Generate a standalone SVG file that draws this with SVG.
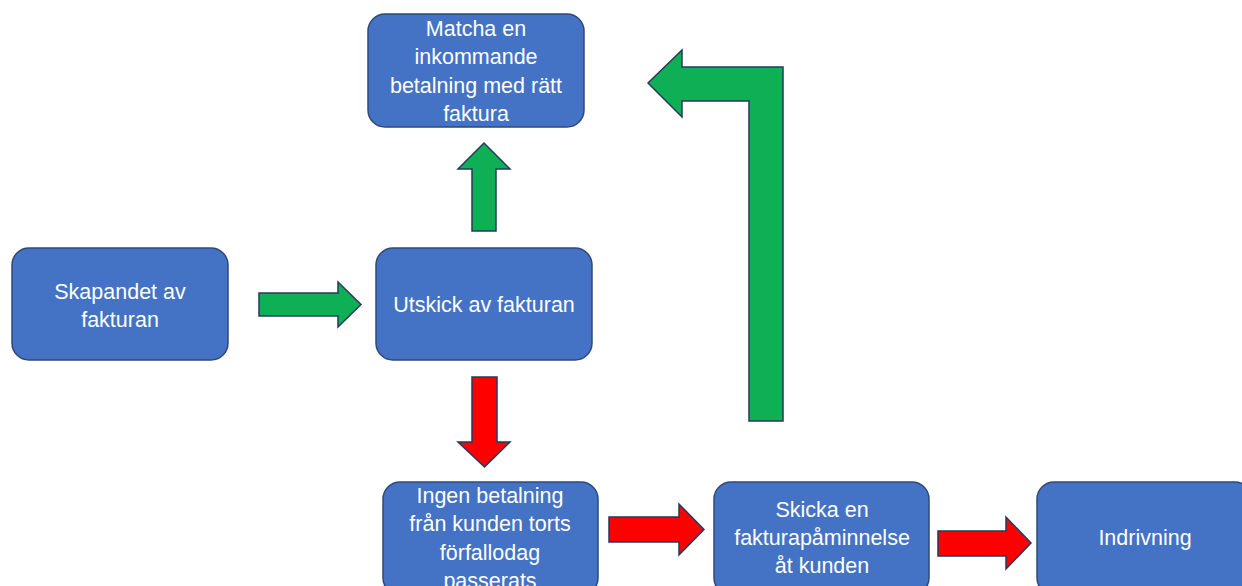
<svg xmlns="http://www.w3.org/2000/svg" width="1242" height="586" viewBox="0 0 1242 586">
<style>
.box{fill:#4472C4;stroke:#2F4A7A;stroke-width:1.5}
.t{font-family:"Liberation Sans",Arial,sans-serif;font-size:21.5px;fill:#FFFFFF;text-anchor:middle}
.g{fill:#0FAF55;stroke:#253A5E;stroke-width:1.5;stroke-linejoin:miter}
.r{fill:#FF0000;stroke:#253A5E;stroke-width:1.5;stroke-linejoin:miter}
</style>
<rect width="1242" height="586" fill="#FFFFFF"/>
<g id="connectors">
<polygon class="g" points="259,293 338,293 338,282 361,304.5 338,327 338,316 259,316"/>
<polygon class="g" points="472,231 472,169 458,169 484,143 510,169 496,169 496,231"/>
<polygon class="r" points="472,377 497,377 497,442 510,442 484.5,467 458,442 472,442"/>
<polygon class="g" points="783,421 749,421 749,101 682,101 682,117 648,83 682,50 682,67 783,67"/>
<polygon class="r" points="609,517 679,517 679,504 704,529.5 679,555 679,542 609,542"/>
<polygon class="r" points="938,531 1006,531 1006,517 1031,543 1006,569 1006,556 938,556"/>
</g>
<g id="node-matcha">
<rect class="box" x="368" y="14" width="216" height="113" rx="17"/>
<text class="t" x="476" y="36">Matcha en</text>
<text class="t" x="476" y="64">inkommande</text>
<text class="t" x="476" y="93">betalning med rätt</text>
<text class="t" x="476" y="121">faktura</text>
</g>
<g id="node-skapandet">
<rect class="box" x="12" y="248" width="216" height="112" rx="17"/>
<text class="t" x="120" y="299">Skapandet av</text>
<text class="t" x="120" y="327">fakturan</text>
</g>
<g id="node-utskick">
<rect class="box" x="376" y="248" width="216" height="112" rx="17"/>
<text class="t" x="484" y="312">Utskick av fakturan</text>
</g>
<g id="node-ingen">
<rect class="box" x="383" y="482" width="215" height="113" rx="17"/>
<text class="t" x="490" y="503">Ingen betalning</text>
<text class="t" x="490" y="531">från kunden torts</text>
<text class="t" x="490" y="560">förfallodag</text>
<text class="t" x="490" y="588">passerats</text>
</g>
<g id="node-skicka">
<rect class="box" x="714" y="482" width="215" height="113" rx="17"/>
<text class="t" x="822" y="517">Skicka en</text>
<text class="t" x="822" y="545">fakturapåminnelse</text>
<text class="t" x="822" y="573">åt kunden</text>
</g>
<g id="node-indrivning">
<rect class="box" x="1037" y="482" width="215" height="113" rx="17"/>
<text class="t" x="1145" y="545">Indrivning</text>
</g>
</svg>
